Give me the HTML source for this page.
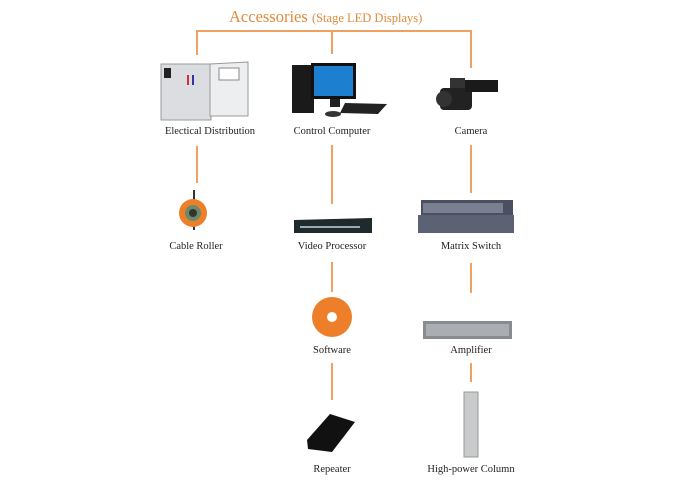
<!DOCTYPE html>
<html><head><meta charset="utf-8"><style>
html,body{margin:0;padding:0;background:#fff;}
body{width:698px;height:488px;position:relative;overflow:hidden;font-family:"Liberation Serif",serif;}
.l{position:absolute;background:#f0a060;}
.t{position:absolute;font-size:10.5px;color:#222;text-align:center;width:160px;white-space:nowrap;}
</style></head><body>
<div style="position:absolute;left:229px;top:7px;color:#e08a3c;font-size:16.5px;white-space:nowrap;">Accessories <span style="font-size:12.5px">(Stage LED Displays)</span></div>
<div class="l" style="left:196px;top:30px;width:276px;height:2px"></div>
<div class="l" style="left:196px;top:30px;width:2px;height:25px"></div>
<div class="l" style="left:331px;top:30px;width:2px;height:24px"></div>
<div class="l" style="left:470px;top:30px;width:2px;height:38px"></div>
<div class="l" style="left:196px;top:146px;width:2px;height:37px"></div>
<div class="l" style="left:331px;top:145px;width:2px;height:59px"></div>
<div class="l" style="left:470px;top:145px;width:2px;height:48px"></div>
<div class="l" style="left:331px;top:262px;width:2px;height:30px"></div>
<div class="l" style="left:470px;top:263px;width:2px;height:30px"></div>
<div class="l" style="left:331px;top:363px;width:2px;height:37px"></div>
<div class="l" style="left:470px;top:363px;width:2px;height:19px"></div>

<svg width="698" height="488" style="position:absolute;left:0;top:0">
<rect x="161" y="64" width="50" height="56" fill="#dcdde0" stroke="#999"/>
<rect x="164" y="68" width="7" height="10" fill="#222"/>
<rect x="187" y="75" width="2" height="10" fill="#c33"/><rect x="192" y="75" width="2" height="10" fill="#33a"/>
<polygon points="210,64 248,62 248,116 210,116" fill="#eceef0" stroke="#999"/>
<rect x="219" y="68" width="20" height="12" fill="#fff" stroke="#888"/>
<rect x="292" y="65" width="22" height="48" fill="#1a1a1a"/>
<rect x="311" y="63" width="45" height="36" fill="#111"/>
<rect x="314" y="66" width="39" height="30" fill="#1d7fd0"/>
<rect x="330" y="99" width="10" height="8" fill="#222"/>
<polygon points="345,103 387,104 378,114 340,113" fill="#222"/>
<ellipse cx="333" cy="114" rx="8" ry="3" fill="#333"/>
<rect x="440" y="88" width="32" height="22" rx="4" fill="#222"/>
<circle cx="444" cy="99" r="8" fill="#333"/>
<rect x="465" y="80" width="33" height="12" fill="#1a1a1a"/>
<rect x="450" y="78" width="15" height="10" fill="#333"/>
<rect x="193" y="190" width="2" height="40" fill="#333"/>
<circle cx="193" cy="213" r="14" fill="#ee7f2a"/>
<circle cx="193" cy="213" r="8" fill="#6a8a6a"/>
<circle cx="193" cy="213" r="4" fill="#333"/>
<polygon points="294,220 372,218 372,233 294,233" fill="#1f2a2c"/>
<rect x="300" y="226" width="60" height="2" fill="#9ab"/>
<rect x="421" y="200" width="92" height="16" fill="#4a5060"/>
<rect x="423" y="203" width="80" height="10" fill="#7a8090"/>
<rect x="418" y="215" width="96" height="18" fill="#5a6274"/>
<circle cx="332" cy="317" r="20" fill="#ee7f2a"/>
<circle cx="332" cy="317" r="5" fill="#fff"/>
<rect x="423" y="321" width="89" height="18" fill="#888b90"/>
<rect x="426" y="324" width="83" height="12" fill="#aaadb2"/>
<polygon points="307,440 330,414 355,422 332,452 308,449" fill="#111"/>
<rect x="464" y="392" width="14" height="65" fill="#c8cacc" stroke="#999"/>
</svg>

<div class="t" style="left:130px;top:126px">Electical Distribution</div>
<div class="t" style="left:252px;top:126px">Control Computer</div>
<div class="t" style="left:391px;top:126px">Camera</div>
<div class="t" style="left:116px;top:241px">Cable Roller</div>
<div class="t" style="left:252px;top:241px">Video Processor</div>
<div class="t" style="left:391px;top:241px">Matrix Switch</div>
<div class="t" style="left:252px;top:345px">Software</div>
<div class="t" style="left:391px;top:345px">Amplifier</div>
<div class="t" style="left:252px;top:464px">Repeater</div>
<div class="t" style="left:391px;top:464px">High-power Column</div>
</body></html>
